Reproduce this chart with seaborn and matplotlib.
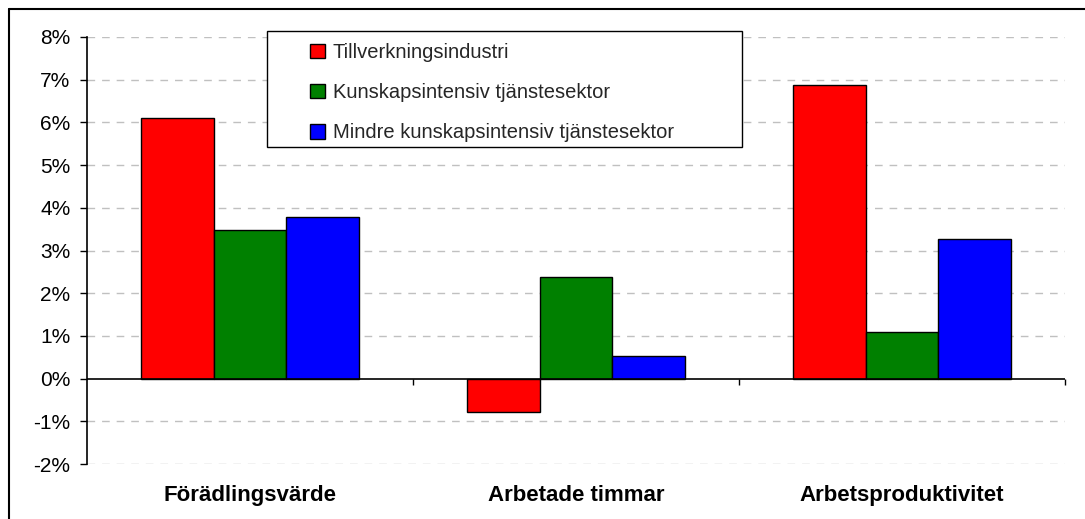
import pandas as pd
import numpy as np
import seaborn as sns
import matplotlib.pyplot as plt
from matplotlib.patches import Rectangle
from matplotlib.lines import Line2D
from matplotlib.ticker import PercentFormatter

#data (percent)
categories = ['Förädlingsvärde', 'Arbetade timmar', 'Arbetsproduktivitet']
series = ['Tillverkningsindustri', 'Kunskapsintensiv tjänstesektor',
          'Mindre kunskapsintensiv tjänstesektor']
tillverkning = [6.1, -0.78, 6.87]
kunskap = [3.47, 2.37, 1.08]
mindre = [3.79, 0.54, 3.26]
colors = ['#ff0000', '#008000', '#0000ff']

df = pd.DataFrame({
    'kategori': categories * 3,
    'serie': np.repeat(series, 3),
    'varde': tillverkning + kunskap + mindre,
})

sns.set_style('white')
plt.rcParams['font.family'] = ['Liberation Sans', 'DejaVu Sans']
plt.rcParams['axes.unicode_minus'] = False

fig = plt.figure(figsize=(10.85, 5.19), dpi=100)
ax = fig.add_axes([87/1085, 1 - 464/519, (1065-87)/1085, (464-37)/519])

sns.barplot(data=df, x='kategori', y='varde', hue='serie', order=categories,
            hue_order=series, palette=colors, width=0.667, gap=0,
            edgecolor='black', linewidth=1, saturation=1, ax=ax, legend=False)

ax.set_xlim(-0.5, 2.5)
ax.set_ylim(-2, 8)
ax.set_yticks(range(-2, 9))
ax.yaxis.set_major_formatter(PercentFormatter(decimals=0))
ax.set_xlabel('')
ax.set_ylabel('')

#grid
for v in range(-2, 9):
    if v != 0:
        ax.axhline(v, color='#c0c0c0', lw=1, dashes=(5.5, 5), zorder=0)
ax.axhline(0, color='black', lw=1.2, zorder=3)
ax.vlines([0.5, 1.5, 2.5], 0, -0.15, color='black', lw=1, clip_on=False)

for s in ['top', 'right', 'bottom']:
    ax.spines[s].set_visible(False)
ax.spines['left'].set_color('black')
ax.spines['left'].set_linewidth(1.2)

ax.tick_params(axis='y', length=5, width=1, color='black', left=True,
               labelsize=15, pad=7, labelcolor='black')
ax.tick_params(axis='x', length=0, pad=15, labelsize=16, labelcolor='black')
for lab in ax.get_xticklabels():
    lab.set_fontweight('bold')

#legend box
fig.add_artist(Rectangle((267/1085, 1 - 147/519), 475/1085, 116/519,
                         transform=fig.transFigure, facecolor='white',
                         edgecolor='black', lw=1, zorder=5))
handles = [Rectangle((0, 0), 1, 1, facecolor=c, edgecolor='black', lw=1)
           for c in colors]
leg = fig.legend(handles, series, loc='upper left',
                 bbox_to_anchor=(300/1085, 1 - 33/519), frameon=False,
                 fontsize=14.5, handlelength=0.72, handleheight=0.72,
                 handletextpad=0.4, labelspacing=1.05, borderpad=0)
leg.set_zorder(6)

#outer frame
fig.add_artist(Line2D([9/1085, 1], [1 - 9/519, 1 - 9/519], color='black', lw=1.5))
fig.add_artist(Line2D([9/1085, 9/1085], [0, 1 - 9/519], color='black', lw=1.5))

fig.savefig('out.png', dpi=100)
